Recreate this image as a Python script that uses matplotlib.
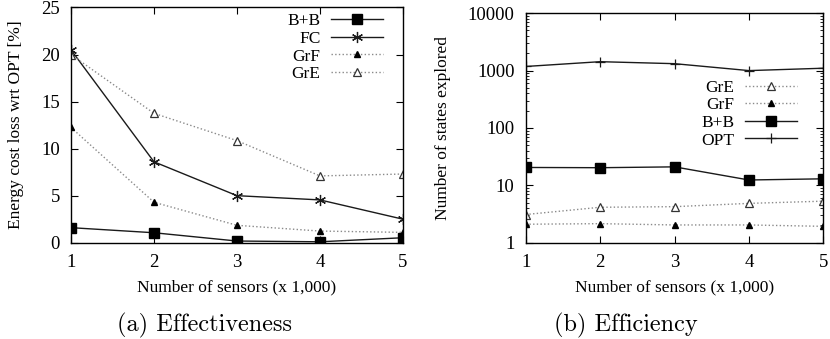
import matplotlib
matplotlib.use("Agg")
import matplotlib.pyplot as plt
from matplotlib.ticker import LogLocator, NullFormatter, FixedLocator

plt.rcParams['font.family'] = ['Liberation Serif', 'DejaVu Serif']

x = [1, 2, 3, 4, 5]

# (a) effectiveness: energy cost loss wrt OPT [%]
loss_bb = [1.6, 1.06, 0.18, 0.1, 0.53]
loss_fc = [20.5, 8.6, 5.0, 4.55, 2.5]
loss_grf = [12.25, 4.3, 1.85, 1.24, 1.1]
loss_gre = [20.0, 13.75, 10.85, 7.1, 7.3]

# (b) efficiency: number of states explored
states_gre = [3.1, 4.15, 4.25, 4.85, 5.3]
states_grf = [2.1, 2.15, 2.04, 2.04, 1.93]
states_bb = [20.5, 20.3, 21.0, 12.4, 13.0]
states_opt = [1180, 1430, 1320, 1000, 1100]

solid = '#1a1a1a'
dotted = '#8a8a8a'
asterisk = (6, 2, 0)

fig = plt.figure(figsize=(8.3, 3.39), dpi=100)
ax1 = fig.add_axes([0.0855, 0.284, 0.4, 0.694])
ax2 = fig.add_axes([0.6334, 0.284, 0.3586, 0.677])

ax1.plot(x, loss_bb, '-', color=solid, lw=1.0, marker='s', ms=6.5,
         mfc='black', mec='black', label='B+B')
ax1.plot(x, loss_fc, '-', color=solid, lw=1.0, marker=asterisk, ms=8,
         mec=solid, mew=0.9, label='FC')
ax1.plot(x, loss_grf, ':', color=dotted, lw=1.0, marker='^', ms=5,
         mfc='black', mec='black', label='GrF')
ax1.plot(x, loss_gre, ':', color=dotted, lw=1.0, marker='^', ms=6,
         mfc='white', mec='#333333', mew=0.9, label='GrE')

ax1.set_xlim(1, 5)
ax1.set_ylim(0, 25)
ax1.set_xticks(x)
ax1.set_yticks([0, 5, 10, 15, 20, 25])
ax1.set_xlabel('Number of sensors (x 1,000)', fontsize=12.5, labelpad=6)
ax1.set_ylabel('Energy cost loss wrt OPT [%]', fontsize=12.5, labelpad=12)
ax1.legend(loc='upper right', bbox_to_anchor=(0.94, 0.975), frameon=False,
           markerfirst=False, fontsize=12.5, borderpad=0, borderaxespad=0,
           handlelength=3.0, handletextpad=0.6, labelspacing=0.08)

ax2.plot(x, states_gre, ':', color=dotted, lw=1.0, marker='^', ms=6,
         mfc='white', mec='#333333', mew=0.9, label='GrE')
ax2.plot(x, states_grf, ':', color=dotted, lw=1.0, marker='^', ms=5,
         mfc='black', mec='black', label='GrF')
ax2.plot(x, states_bb, '-', color=solid, lw=1.0, marker='s', ms=6.5,
         mfc='black', mec='black', label='B+B')
ax2.plot(x, states_opt, '-', color=solid, lw=1.0, marker='+', ms=7,
         mew=0.9, label='OPT')

ax2.set_yscale('log')
ax2.set_xlim(1, 5)
ax2.set_ylim(1, 10000)
ax2.set_xticks(x)
ax2.yaxis.set_major_locator(FixedLocator([1, 10, 100, 1000, 10000]))
ax2.set_yticklabels(['1', '10', '100', '1000', '10000'])
ax2.yaxis.set_minor_locator(LogLocator(base=10, subs=range(2, 10)))
ax2.yaxis.set_minor_formatter(NullFormatter())
ax2.set_xlabel('Number of sensors (x 1,000)', fontsize=12.5, labelpad=6)
ax2.set_ylabel('Number of states explored', fontsize=12.5, labelpad=12)
ax2.legend(loc='upper right', bbox_to_anchor=(0.911, 0.71), frameon=False,
           markerfirst=False, fontsize=12.5, borderpad=0, borderaxespad=0,
           handlelength=3.0, handletextpad=0.6, labelspacing=0.08)

for ax in (ax1, ax2):
    ax.tick_params(which='major', direction='in', top=True, right=True,
                   length=5, width=0.8, labelsize=13.5, pad=8)
    ax.tick_params(which='minor', direction='in', top=False, right=True,
                   length=2.5, width=0.6)
    for s in ax.spines.values():
        s.set_linewidth(1.0)
        s.set_color('black')

fig.text(0.246, 0.041, '(a) Effectiveness', fontsize=17.5, family='cmr10',
         ha='center', va='center')
fig.text(0.754, 0.041, '(b) Efficiency', fontsize=17.5, family='cmr10',
         ha='center', va='center')

fig.savefig('out.png', dpi=100)
